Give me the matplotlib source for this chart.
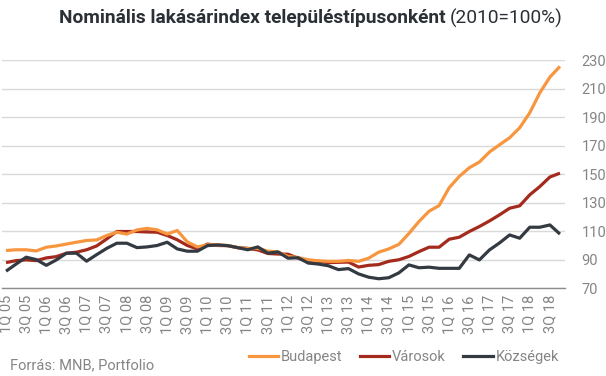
import matplotlib.pyplot as plt
from matplotlib.lines import Line2D

plt.rcParams['font.family'] = ['Roboto', 'DejaVu Sans']

# quarterly data, 1Q05 .. 4Q18 (2010 = 100%)
quarters = [f"{q}Q {y:02d}" for y in range(5, 19) for q in range(1, 5)]

budapest = [96.5, 97, 97, 96.2, 98.8, 99.7, 101, 102.3, 103.5, 103.9,
            107, 109.3, 108, 110.9, 112, 111, 108, 110.5, 102.5, 99,
            100.5, 100.4, 100, 98.5, 97.8, 98, 96, 95.5, 92.3, 91.6,
            90, 89.3, 88.9, 88.9, 89.5, 88.9, 91.1, 95.3, 97.6, 100.8,
            108.4, 116.8, 124, 128, 140.5, 148.4, 154.5, 158.5, 165.5, 170.6,
            175.5, 182.5, 193, 207, 218, 225.5]

varosok = [88, 89.4, 89.9, 89.4, 91.3, 92.2, 94.6, 95.3, 97, 99.7,
           104.6, 109.8, 109.8, 109.8, 109.5, 109.3, 107, 104, 100, 97.6,
           101, 100, 99.9, 98.5, 98, 96.9, 94.4, 94, 93.9, 91.1,
           88.9, 88.9, 88, 88.2, 88.4, 84.9, 86.1, 86.6, 88.9, 90,
           92.3, 95.7, 98.8, 98.8, 104.4, 105.8, 109.8, 113.3, 117.2, 121.5,
           126.1, 127.8, 135.5, 141.3, 148, 150.7]

kozsegek = [82, 87, 91.8, 90.1, 86.1, 89.9, 94.6, 94.6, 89, 93.6,
            98, 101.6, 101.6, 98.5, 99, 100, 102.3, 97.6, 96, 96,
            99.9, 100.4, 99.9, 98.5, 97, 99, 94.6, 95.5, 91.1, 91.4,
            87.7, 87, 85.8, 83.1, 83.8, 80.1, 77.8, 76.7, 77.4, 80.8,
            86.4, 84.4, 84.8, 84, 84, 84, 93.4, 89.9, 96.9, 101.8,
            107.4, 105.1, 112.8, 112.8, 114.4, 108]

yticks = [70, 90, 110, 130, 150, 170, 190, 210, 230]

c_bp = '#f7963f'
c_va = '#a32a1c'
c_ko = '#343a42'
grey = '#858585'

fig = plt.figure(figsize=(6.06, 3.76), dpi=100)
ax = fig.add_axes([2 / 606, 1 - 288.3 / 376, 563 / 606, 228.3 / 376])

x = list(range(len(quarters)))
ax.plot(x, varosok, color=c_va, lw=2.3, zorder=3, solid_capstyle='butt')
ax.plot(x, budapest, color=c_bp, lw=2.3, zorder=4, solid_capstyle='butt')
ax.plot(x, kozsegek, color=c_ko, lw=2.3, zorder=5, solid_capstyle='butt')

ax.set_xlim(-0.4, 55.5)
ax.set_ylim(70, 230)
ax.set_yticks(yticks)
ax.yaxis.tick_right()
ax.tick_params(axis='y', length=0, pad=12, labelsize=10.5, labelcolor=grey)
ax.grid(axis='y', color='#d9d9d9', lw=1)
ax.set_xticks(x[::2])
ax.set_xticklabels(quarters[::2], rotation=90)
ax.tick_params(axis='x', length=0, pad=5, labelsize=10.5, labelcolor=grey)
for side in ['top', 'left', 'right']:
    ax.spines[side].set_visible(False)
ax.spines['bottom'].set_color('#8c8c8c')
ax.spines['bottom'].set_linewidth(1)

# title: bold part + regular part, centred as a whole
fig.canvas.draw()
r = fig.canvas.get_renderer()
ty = 1 - 18 / 376
t1 = fig.text(0, ty, 'Nominális lakásárindex településtípusonként',
              fontsize=13.8, fontweight='bold', color='#2b2f36', va='center', ha='left')
t2 = fig.text(0, ty, '(2010=100%)', fontsize=13.8, color='#2b2f36',
              va='center', ha='left')
w1 = t1.get_window_extent(renderer=r).width
w2 = t2.get_window_extent(renderer=r).width
gap = 4
x0 = 311 - (w1 + gap + w2) / 2
t1.set_x(x0 / 606)
t2.set_x((x0 + w1 + gap) / 606)

fig.text(10 / 606, 1 - 365 / 376, 'Forrás: MNB, Portfolio', fontsize=10.5,
         color=grey, va='center', ha='left')

handles = [Line2D([], [], color=c, lw=2.3) for c in (c_bp, c_va, c_ko)]
fig.legend(handles, ['Budapest', 'Városok', 'Községek'], loc='center right',
           bbox_to_anchor=(572 / 606, 1 - 357 / 376), ncol=3, frameon=False,
           handlelength=2.0, handletextpad=0.2, columnspacing=1.2,
           prop={'size': 10.5}, labelcolor=grey)

fig.savefig('out.png', dpi=100)
